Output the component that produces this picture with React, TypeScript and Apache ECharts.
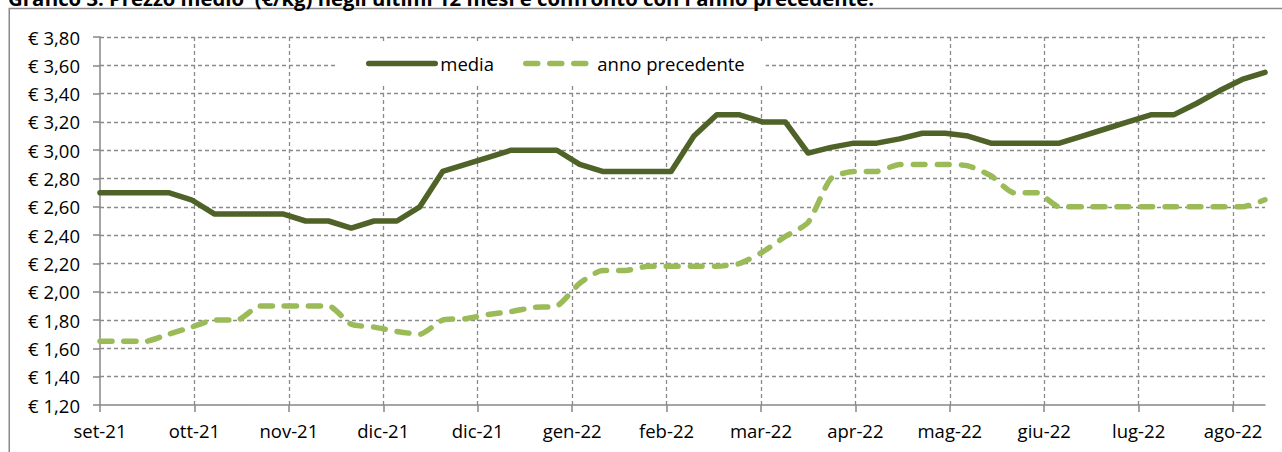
import React, { useEffect, useRef } from 'react';
import * as echarts from 'echarts';

const titleText = "Grafico 3. Prezzo medio  (€/kg) negli ultimi 12 mesi e confronto con l'anno precedente.";
const xLabels = ['set-21', 'ott-21', 'nov-21', 'dic-21', 'dic-21', 'gen-22', 'feb-22', 'mar-22', 'apr-22', 'mag-22', 'giu-22', 'lug-22', 'ago-22'];
const seriesNames = ['media', 'anno precedente'];
const media = [2.70, 2.70, 2.70, 2.70, 2.65, 2.55, 2.55, 2.55, 2.55, 2.50, 2.50, 2.45, 2.50, 2.50, 2.60, 2.85, 2.90, 2.95, 3.00, 3.00, 3.00, 2.90, 2.85, 2.85, 2.85, 2.85, 3.10, 3.25, 3.25, 3.20, 3.20, 2.98, 3.02, 3.05, 3.05, 3.08, 3.12, 3.12, 3.10, 3.05, 3.05, 3.05, 3.05, 3.10, 3.15, 3.20, 3.25, 3.25, 3.33, 3.42, 3.50, 3.55];
const annoPrecedente = [1.65, 1.65, 1.65, 1.70, 1.75, 1.80, 1.80, 1.90, 1.90, 1.90, 1.90, 1.77, 1.75, 1.72, 1.70, 1.80, 1.81, 1.84, 1.86, 1.89, 1.90, 2.06, 2.15, 2.15, 2.18, 2.18, 2.18, 2.18, 2.20, 2.28, 2.39, 2.49, 2.80, 2.85, 2.85, 2.90, 2.90, 2.90, 2.89, 2.82, 2.70, 2.70, 2.60, 2.60, 2.60, 2.60, 2.60, 2.60, 2.60, 2.60, 2.60, 2.65];

const X_INTERVAL = 4.1334;
const FONT = '"Open Sans", sans-serif';
const GRID_COLOR = '#8a8a8a';
const AXIS_COLOR = '#878787';

export default function App() {
  const ref = useRef<HTMLDivElement>(null);
  useEffect(() => {
    if (!ref.current) return;
    const chart = echarts.init(ref.current, null, { renderer: 'svg' });
    const tickVals = xLabels.map((_, i) => +(i * X_INTERVAL).toFixed(4));
    chart.setOption({
      animation: false,
      backgroundColor: '#ffffff',
      grid: { left: 100, right: 17, top: 37, bottom: 47, containLabel: false },
      legend: {
        data: seriesNames,
        left: 337,
        top: 44,
        padding: [10, 21, 10, 29],
        backgroundColor: '#ffffff',
        itemWidth: 66.5,
        itemHeight: 19,
        itemGap: 29,
        itemStyle: { opacity: 0 },
        lineStyle: { width: 5.5, cap: 'round' },
        textStyle: { fontFamily: FONT, fontSize: 18.5, color: '#000000' },
      },
      graphic: [
        {
          type: 'rect',
          silent: true,
          z: -1,
          shape: { x: 9.25, y: 8.5, width: 1400, height: 600 },
          style: { fill: 'none', stroke: '#8a8a8a', lineWidth: 1.5 },
        },
        {
          type: 'text',
          silent: true,
          x: 8,
          y: -2,
          style: {
            text: titleText,
            font: 'bold 20.3px "Open Sans", sans-serif',
            fill: '#000000',
            textAlign: 'left',
            textVerticalAlign: 'middle',
            align: 'left',
            verticalAlign: 'middle',
          },
        },
      ],
      xAxis: {
        type: 'value',
        min: 0,
        max: media.length - 1,
        interval: X_INTERVAL,
        axisLine: { show: true, lineStyle: { color: AXIS_COLOR, width: 1.5 } },
        axisTick: { show: true, length: 7, customValues: tickVals, lineStyle: { color: AXIS_COLOR, width: 1.5 } },
        axisLabel: {
          margin: 16,
          fontFamily: FONT,
          fontSize: 18.5,
          color: '#000000',
          customValues: tickVals,
          formatter: (v: number) => {
            const k = Math.round(v / X_INTERVAL);
            return Math.abs(v - k * X_INTERVAL) < 0.01 && k < xLabels.length ? xLabels[k] : '';
          },
        },
        splitLine: {
          show: true,
          showMinLine: false,
          lineStyle: { color: GRID_COLOR, width: 1.3, type: [4, 3] },
        },
      },
      yAxis: {
        type: 'value',
        min: 1.2,
        max: 3.8,
        interval: 0.2,
        axisLine: { show: true, lineStyle: { color: AXIS_COLOR, width: 1.5 } },
        axisTick: { show: true, length: 7, lineStyle: { color: AXIS_COLOR, width: 1.5 } },
        axisLabel: {
          margin: 20,
          fontFamily: FONT,
          fontSize: 18.5,
          color: '#000000',
          formatter: (v: number) => '€ ' + v.toFixed(2).replace('.', ','),
        },
        splitLine: {
          show: true,
          showMinLine: false,
          lineStyle: { color: GRID_COLOR, width: 1.3, type: [4, 3] },
        },
      },
      series: [
        {
          name: seriesNames[0],
          type: 'line',
          symbol: 'none',
          data: media.map((v, i) => [i, v]),
          lineStyle: { color: '#4f6228', width: 5.5, cap: 'round', join: 'round' },
          itemStyle: { color: '#4f6228' },
        },
        {
          name: seriesNames[1],
          type: 'line',
          symbol: 'none',
          smooth: 0.2,
          data: annoPrecedente.map((v, i) => [i, v]),
          lineStyle: { color: '#9bbb59', width: 5.5, type: [12, 12], cap: 'round', join: 'round' },
          itemStyle: { color: '#9bbb59' },
        },
      ],
    });
    return () => chart.dispose();
  }, []);
  return (
    <div style={{ position: 'absolute', left: 0, top: 0, width: 1282, height: 452 }}>
      <div ref={ref} style={{ width: 1282, height: 452 }} />
    </div>
  );
}
